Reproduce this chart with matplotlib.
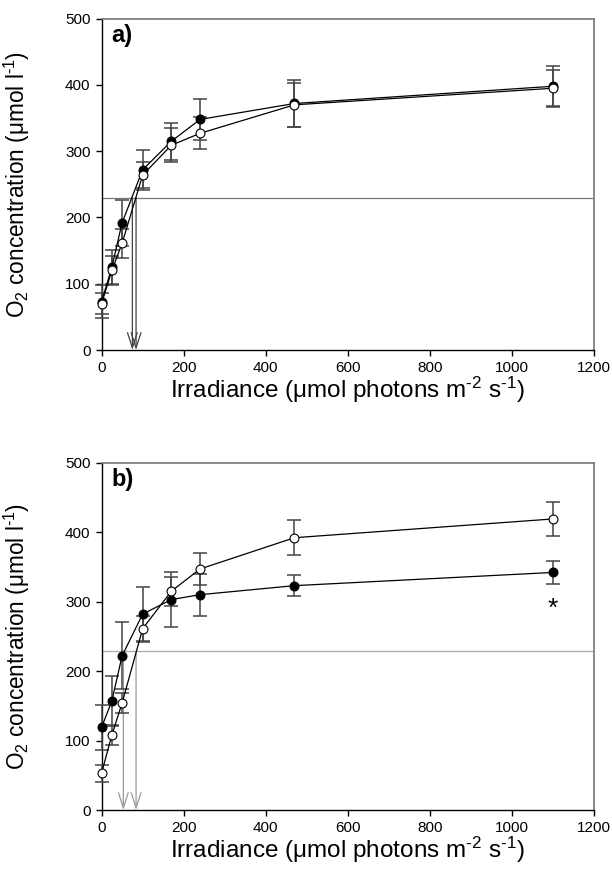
import matplotlib
matplotlib.use("Agg")
import matplotlib.pyplot as plt

plt.rcParams['font.family'] = ['Liberation Sans', 'DejaVu Sans']
plt.rcParams['mathtext.fontset'] = 'custom'
plt.rcParams['mathtext.rm'] = 'Liberation Sans'
plt.rcParams['mathtext.it'] = 'Liberation Sans:italic'
plt.rcParams['mathtext.bf'] = 'Liberation Sans:bold'

# Irradiance levels
irradiance = [0, 25, 50, 100, 170, 240, 470, 1100]

# Panel a
a_filled = [73, 125, 192, 272, 315, 348, 372, 398]
a_filled_err = [25, 26, 35, 30, 28, 31, 35, 30]
a_open = [70, 120, 161, 264, 309, 327, 370, 395]
a_open_err = [16, 22, 22, 20, 26, 24, 33, 28]
a_threshold = 230
a_arrows = [75, 84]

# Panel b
b_filled = [119, 157, 222, 282, 303, 310, 323, 342]
b_filled_err = [32, 36, 48, 39, 40, 30, 15, 17]
b_open = [53, 108, 154, 261, 315, 347, 392, 419]
b_open_err = [12, 15, 15, 19, 21, 23, 25, 25]
b_threshold = 229
b_arrows = [53, 84]
b_star = (1100, 290)

xticks = [0, 200, 400, 600, 800, 1000, 1200]
yticks = [0, 100, 200, 300, 400, 500]

XLABEL = 'Irradiance (\u03bcmol photons m$^{\\text{-2}}$ s$^{\\text{-1}}$)'
YLABEL = 'O$_2$ concentration (\u03bcmol l$^{\\text{-1}}$)'

fig = plt.figure(figsize=(6.12, 8.85), dpi=100)
ax_a = fig.add_axes([0.166, 0.6045, 0.8046, 0.3744])
ax_b = fig.add_axes([0.166, 0.0847, 0.8046, 0.3925])


def draw(ax, filled, ferr, opn, oerr, thr, arrows, label, hcol, acol):
    ax.axhline(thr, color=hcol, lw=0.9, zorder=1)
    for xa in arrows:
        ax.annotate('', xy=(xa, 0), xytext=(xa, thr),
                    arrowprops=dict(arrowstyle='->,head_length=1.1,head_width=0.35',
                                    color=acol, lw=0.9, shrinkA=0, shrinkB=0,
                                    mutation_scale=10),
                    zorder=2)
    for vals, errs in ((filled, ferr), (opn, oerr)):
        eb = ax.errorbar(irradiance, vals, yerr=errs, fmt='none', ecolor='#444444',
                         elinewidth=1.1, capsize=5, capthick=1.1, zorder=3)
        for art in eb.get_children():
            art.set_clip_on(False)
    ax.plot(irradiance, filled, '-o', color='black', lw=0.9, ms=6.4,
            mfc='black', mec='black', mew=0.8, zorder=4, clip_on=False)
    ax.plot(irradiance, opn, '-o', color='black', lw=0.9, ms=6.4,
            mfc='white', mec='black', mew=0.8, zorder=5, clip_on=False)
    ax.set_xlim(0, 1200)
    ax.set_ylim(0, 500)
    ax.set_xticks(xticks)
    ax.set_yticks(yticks)
    ax.tick_params(direction='out', length=4, width=1, labelsize=11,
                   colors='black', top=False, right=False, pad=4)
    for s in ['top', 'right']:
        ax.spines[s].set_color('#777777')
        ax.spines[s].set_linewidth(1.2)
    for s in ['left', 'bottom']:
        ax.spines[s].set_color('black')
        ax.spines[s].set_linewidth(1.0)
    ax.set_xlabel(XLABEL, fontsize=17.5, labelpad=0)
    ax.set_ylabel(YLABEL, fontsize=16.3, labelpad=24)
    ax.text(0.02, 0.985, label, transform=ax.transAxes, fontsize=17,
            fontweight='bold', va='top', ha='left')


draw(ax_a, a_filled, a_filled_err, a_open, a_open_err, a_threshold, a_arrows,
     'a)', '#777777', '#444444')
draw(ax_b, b_filled, b_filled_err, b_open, b_open_err, b_threshold, b_arrows,
     'b)', '#aaaaaa', '#999999')
ax_b.text(b_star[0], b_star[1], '*', fontsize=19, ha='center', va='center')

fig.savefig('out.png', dpi=100)
